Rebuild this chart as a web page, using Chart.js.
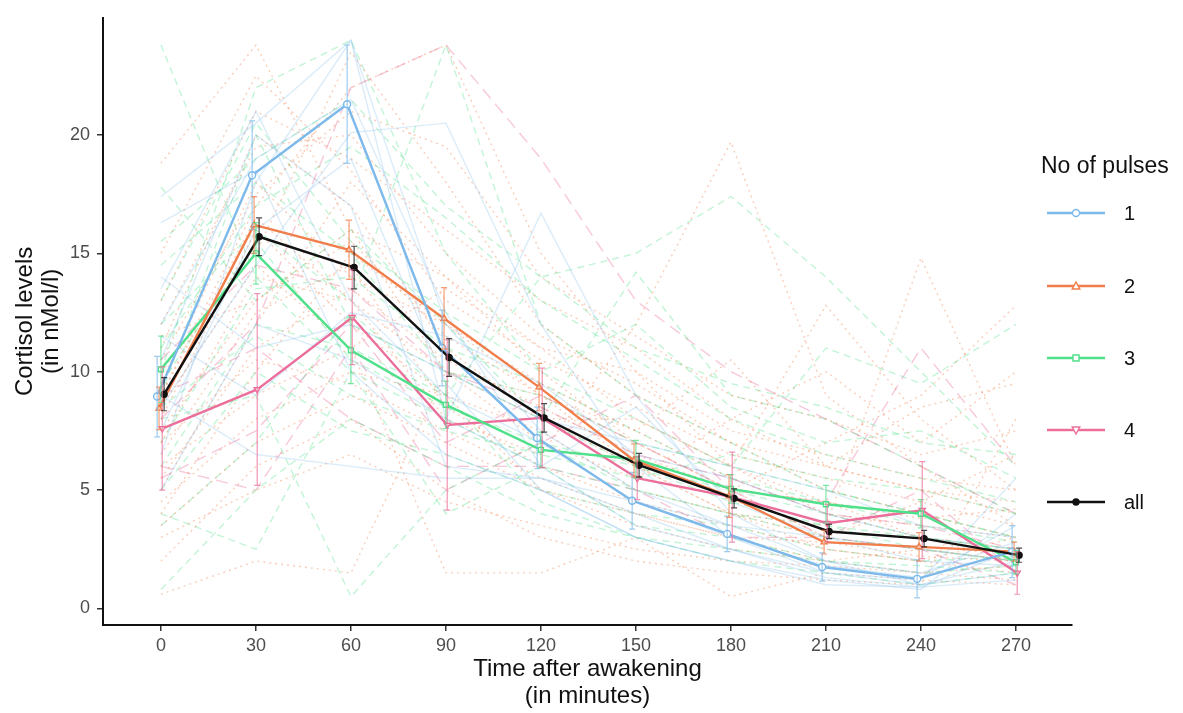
<!DOCTYPE html>
<html>
<head>
<title>Cortisol after awakening</title>
<script src="https://cdn.jsdelivr.net/npm/chart.js"></script>
<style>
  body { margin: 0; background: #fff; }
  #wrap { position: relative; width: 1183px; height: 713px; }
</style>
</head>
<body>
<div id="wrap"><canvas id="cortisolChart"></canvas></div>
<script>
    // sampling times (minutes after awakening) and axis ticks
    const times = [0, 30, 60, 90, 120, 150, 180, 210, 240, 270];
    const xTicks = [0, 30, 60, 90, 120, 150, 180, 210, 240, 270];
    const yTicks = [0, 5, 10, 15, 20];

    // group means and error bar half-widths
    const mean1 = [8.95, 18.3, 21.3, 11.0, 7.2, 4.55, 3.15, 1.75, 1.25, 2.4];
    const err1 = [1.7, 2.3, 2.5, 1.6, 1.3, 1.2, 0.75, 0.6, 0.8, 1.1];
    const mean2 = [8.45, 16.2, 15.15, 12.25, 9.35, 6.25, 4.75, 2.8, 2.6, 2.4];
    const err2 = [0.9, 1.2, 1.25, 1.3, 1.0, 0.7, 0.9, 0.5, 0.6, 0.4];
    const mean3 = [10.1, 15.0, 10.9, 8.6, 6.7, 6.3, 5.05, 4.4, 4.0, 1.95];
    const err3 = [1.4, 1.3, 1.4, 1.0, 0.75, 0.8, 0.6, 0.8, 0.6, 0.5];
    const mean4 = [7.6, 9.25, 12.3, 7.75, 8.05, 5.5, 4.7, 3.6, 4.15, 1.5];
    const err4 = [2.6, 4.05, 2.0, 3.6, 2.1, 0.9, 1.9, 0.8, 2.05, 0.9];
    const meanAll = [9.05, 15.7, 14.4, 10.6, 8.05, 6.05, 4.65, 3.25, 2.95, 2.25];
    const errAll = [0.7, 0.8, 0.9, 0.8, 0.6, 0.5, 0.4, 0.3, 0.35, 0.3];

    // individual profiles, one row per subject
    const subjects1 = [
        [17.4, 20.5, 24.0, 12.0, 7.5, 5.0, 3.5, 2.0, 1.5, 2.8],
        [13.5, 21.0, 13.0, 9.0, 7.0, 4.5, 3.0, 1.5, 1.0, 2.0],
        [8.5, 14.5, 20.1, 20.5, 12.0, 6.0, 3.0, 1.8, 1.3, 3.5],
        [6.5, 18.0, 24.0, 8.0, 16.7, 9.0, 4.0, 2.0, 1.0, 1.5],
        [12.0, 19.0, 21.5, 12.5, 6.0, 3.5, 2.5, 1.3, 0.9, 2.5],
        [9.0, 6.5, 6.0, 5.5, 5.5, 4.5, 3.5, 3.0, 2.5, 2.0],
        [16.3, 18.5, 10.0, 6.5, 5.0, 3.0, 2.0, 1.2, 0.8, 4.0],
        [5.0, 12.0, 10.5, 8.0, 6.0, 8.5, 4.5, 3.0, 2.0, 1.8],
        [14.0, 11.0, 12.0, 10.0, 8.0, 7.0, 6.0, 5.0, 3.5, 3.0],
        [7.5, 16.0, 19.0, 9.5, 5.0, 3.0, 2.0, 1.0, 0.9, 1.2],
        [10.5, 20.0, 17.0, 6.0, 5.5, 4.0, 2.5, 1.5, 1.2, 5.5],
        [11.5, 9.0, 12.5, 11.5, 9.5, 6.5, 5.5, 4.0, 3.0, 2.5]
    ];
    const subjects2 = [
        [18.8, 23.8, 16.0, 14.0, 10.0, 7.0, 5.0, 3.0, 2.5, 2.0],
        [0.6, 2.0, 1.5, 10.0, 9.0, 6.0, 4.0, 2.5, 2.0, 1.5],
        [9.0, 17.0, 22.0, 23.8, 15.0, 10.0, 6.0, 4.0, 3.0, 2.0],
        [7.0, 14.0, 13.0, 8.0, 6.5, 12.0, 19.7, 9.0, 6.0, 3.5],
        [5.0, 12.0, 18.0, 14.0, 11.0, 8.0, 6.0, 12.8, 8.0, 5.0],
        [11.0, 20.0, 17.0, 11.0, 8.0, 6.0, 4.0, 3.5, 14.8, 6.0],
        [4.0, 10.0, 15.0, 12.0, 9.0, 7.0, 5.0, 7.0, 9.0, 12.8],
        [8.0, 16.0, 12.0, 9.0, 5.0, 4.0, 3.0, 2.0, 2.5, 2.0],
        [6.0, 9.0, 11.0, 1.5, 1.5, 3.0, 0.5, 1.5, 1.2, 1.0],
        [13.0, 21.0, 19.0, 16.0, 13.0, 11.0, 8.0, 6.0, 5.0, 4.0],
        [3.5, 7.0, 9.0, 7.0, 5.0, 3.5, 2.5, 2.0, 1.5, 1.8],
        [10.0, 15.0, 23.5, 18.0, 12.0, 9.0, 7.0, 5.0, 4.0, 3.0],
        [2.0, 6.0, 8.0, 5.0, 3.0, 2.0, 1.5, 1.2, 1.0, 8.0],
        [7.5, 13.0, 16.0, 10.0, 7.0, 5.5, 8.0, 10.0, 7.0, 10.0],
        [9.5, 18.0, 14.0, 12.0, 9.5, 7.5, 5.5, 4.0, 3.5, 3.0],
        [5.5, 11.0, 13.5, 10.5, 8.5, 6.5, 5.0, 4.5, 3.0, 2.5],
        [12.0, 19.5, 20.0, 15.0, 11.5, 9.5, 7.0, 6.0, 5.0, 4.5],
        [4.5, 8.0, 10.0, 9.0, 7.5, 5.0, 4.0, 3.0, 4.5, 6.5],
        [15.0, 22.5, 18.5, 13.0, 10.5, 8.5, 6.5, 5.5, 4.5, 3.5],
        [8.5, 14.5, 11.0, 13.5, 11.0, 10.0, 7.5, 6.5, 5.5, 5.0],
        [6.5, 12.5, 14.5, 8.5, 6.0, 4.5, 3.5, 2.5, 2.0, 3.0],
        [10.5, 17.5, 21.0, 19.5, 14.0, 11.5, 9.0, 8.0, 6.5, 7.5],
        [3.0, 5.0, 6.5, 4.5, 3.5, 2.5, 2.0, 1.8, 1.5, 1.2],
        [11.5, 13.0, 15.5, 11.5, 9.0, 7.5, 10.5, 6.0, 8.5, 9.5],
        [7.0, 10.5, 9.5, 7.5, 5.5, 4.0, 3.0, 2.8, 2.2, 2.0],
        [9.0, 16.5, 13.0, 10.0, 8.0, 8.0, 6.0, 4.5, 3.8, 4.2]
    ];
    const subjects3 = [
        [23.8, 14.0, 10.0, 8.0, 6.0, 5.0, 4.0, 3.5, 3.0, 2.5],
        [0.8, 5.0, 8.0, 6.0, 4.0, 3.0, 2.0, 1.5, 1.0, 1.5],
        [10.0, 22.0, 24.0, 15.0, 10.0, 8.0, 6.0, 5.0, 4.0, 3.0],
        [8.0, 9.0, 0.5, 5.0, 7.0, 5.0, 4.0, 3.0, 2.5, 2.0],
        [12.0, 16.0, 13.0, 23.8, 12.0, 9.0, 7.0, 5.0, 4.0, 3.0],
        [6.0, 12.0, 11.0, 9.0, 14.0, 15.0, 17.4, 14.0, 10.0, 6.0],
        [14.5, 18.0, 15.0, 10.0, 8.0, 14.2, 9.0, 8.0, 6.0, 4.0],
        [4.0, 2.5, 10.0, 4.0, 6.0, 3.5, 3.0, 2.0, 1.5, 1.8],
        [9.0, 20.0, 12.0, 10.0, 9.0, 7.0, 6.0, 11.0, 9.5, 12.0],
        [17.8, 13.0, 16.0, 12.0, 8.0, 6.0, 4.5, 3.5, 2.5, 2.0],
        [7.0, 13.5, 14.0, 11.0, 9.5, 7.5, 5.5, 4.5, 3.5, 2.8],
        [11.0, 17.0, 19.5, 16.5, 13.0, 10.5, 8.0, 6.5, 5.5, 4.5],
        [5.0, 10.0, 7.5, 6.5, 5.0, 4.0, 3.5, 2.5, 2.0, 2.2],
        [13.0, 20.5, 15.5, 12.5, 10.0, 12.0, 8.5, 7.0, 7.5, 5.5],
        [9.5, 15.5, 10.5, 8.5, 7.0, 6.0, 5.0, 4.0, 3.0, 2.5],
        [3.5, 7.0, 12.5, 9.0, 4.5, 3.0, 2.5, 2.0, 1.8, 1.5],
        [15.5, 19.0, 21.5, 17.0, 14.0, 11.0, 9.5, 8.5, 7.0, 6.5],
        [8.5, 11.5, 9.0, 7.5, 6.5, 5.5, 6.5, 5.5, 5.0, 4.0]
    ];
    const subjects4 = [
        [8.0, 12.0, 22.0, 23.8, 19.0, 13.0, 10.0, 8.0, 6.0, 4.0],
        [6.0, 5.0, 11.0, 5.0, 7.0, 9.0, 5.0, 4.5, 11.0, 6.0],
        [9.0, 11.0, 8.0, 6.0, 6.0, 5.0, 3.0, 3.0, 2.5, 1.0],
        [10.5, 14.5, 13.5, 10.0, 8.5, 6.5, 5.5, 4.0, 3.5, 2.5],
        [5.5, 7.5, 12.0, 7.0, 9.0, 7.0, 5.0, 3.0, 5.0, 1.5]
    ];

    const groups = [
        { label: '1', mean: mean1, err: err1, color: '#7db9ea', shape: 'circle', rot: 0, dx: -1.2, fill: '#fff' },
        { label: '2', mean: mean2, err: err2, color: '#f07d4a', shape: 'triangle', rot: 0, dx: -0.6, fill: '#fff' },
        { label: '3', mean: mean3, err: err3, color: '#4fe08a', shape: 'rect', rot: 0, dx: 0, fill: '#fff' },
        { label: '4', mean: mean4, err: err4, color: '#eb6f9a', shape: 'triangle', rot: 180, dx: 0.4, fill: '#fff' },
        { label: 'all', mean: meanAll, err: errAll, color: '#111111', shape: 'circle', rot: 0, dx: 1.0, fill: '#111111' }
    ];

    const datasets = [];

    function addSubjects(rows, color, dash) {
        rows.forEach(vals => {
            datasets.push({
                data: vals.map((v, i) => ({ x: times[i], y: v })),
                borderColor: color,
                borderWidth: 1.4,
                borderDash: dash,
                pointRadius: 0,
                fill: false,
                order: 5
            });
        });
    }
    addSubjects(subjects1, 'rgba(125,185,234,0.28)', []);
    addSubjects(subjects2, 'rgba(240,125,74,0.38)', [2, 4]);
    addSubjects(subjects3, 'rgba(79,224,138,0.35)', [7, 5]);
    addSubjects(subjects4, 'rgba(235,111,154,0.38)', [12, 7]);

    groups.forEach((g, k) => {
        datasets.push({
            label: g.label,
            data: g.mean.map((v, i) => ({ x: times[i] + g.dx, y: v })),
            errs: g.err,
            borderColor: g.color,
            backgroundColor: g.fill,
            borderWidth: 2.4,
            pointStyle: g.shape,
            pointRotation: g.rot,
            pointRadius: g.label === 'all' ? 3 : 3.5,
            pointBorderWidth: 1.4,
            pointBackgroundColor: g.fill,
            fill: false,
            order: k === 4 ? 0 : 1
        });
    });

    // vertical error bars with small caps, placed with the chart scales
    const errorBars = {
        id: 'errorBars',
        afterDatasetsDraw(chart) {
            const ctx = chart.ctx;
            const xs = chart.scales.x, ys = chart.scales.y;
            chart.data.datasets.forEach(ds => {
                if (!ds.errs) return;
                ctx.save();
                ctx.strokeStyle = ds.borderColor;
                ctx.globalAlpha = 0.75;
                ctx.lineWidth = 1.2;
                ds.data.forEach((p, i) => {
                    const px = xs.getPixelForValue(p.x);
                    const top = ys.getPixelForValue(p.y + ds.errs[i]);
                    const bot = ys.getPixelForValue(p.y - ds.errs[i]);
                    ctx.beginPath();
                    ctx.moveTo(px, top); ctx.lineTo(px, bot);
                    ctx.moveTo(px - 3, top); ctx.lineTo(px + 3, top);
                    ctx.moveTo(px - 3, bot); ctx.lineTo(px + 3, bot);
                    ctx.stroke();
                });
                ctx.restore();
            });
        }
    };

    function drawMarker(ctx, g, x, y) {
        ctx.save();
        ctx.fillStyle = g.fill;
        ctx.strokeStyle = g.color;
        ctx.lineWidth = 1.4;
        ctx.beginPath();
        if (g.shape === 'circle') {
            ctx.arc(x, y, g.label === 'all' ? 3 : 3.5, 0, Math.PI * 2);
        } else if (g.shape === 'rect') {
            ctx.rect(x - 3, y - 3, 6, 6);
        } else {
            const s = g.rot ? -1 : 1;
            ctx.moveTo(x, y - 4 * s);
            ctx.lineTo(x + 3.8, y + 3 * s);
            ctx.lineTo(x - 3.8, y + 3 * s);
            ctx.closePath();
        }
        ctx.fill();
        ctx.stroke();
        ctx.restore();
    }

    // legend on the right, like the ggplot guide
    const sideLegend = {
        id: 'sideLegend',
        afterDraw(chart) {
            const ctx = chart.ctx;
            ctx.save();
            ctx.fillStyle = '#111';
            ctx.font = '23px "Liberation Sans", Arial, sans-serif';
            ctx.textBaseline = 'middle';
            ctx.fillText('No of pulses', 1041, 167);
            const rowY = [213, 286, 358, 430, 502];
            ctx.font = '20px "Liberation Sans", Arial, sans-serif';
            groups.forEach((g, i) => {
                const y = rowY[i];
                ctx.strokeStyle = g.color;
                ctx.lineWidth = 2.4;
                ctx.beginPath();
                ctx.moveTo(1047, y);
                ctx.lineTo(1105, y);
                ctx.stroke();
                drawMarker(ctx, g, 1076, y);
                ctx.fillStyle = '#111';
                ctx.fillText(g.label, 1124, y + 1);
            });
            ctx.restore();
        }
    };

    const ctx = document.getElementById('cortisolChart').getContext('2d');
    const cortisolChart = new Chart(ctx, {
        type: 'line',
        data: { datasets: datasets },
        options: {
            responsive: true,
            maintainAspectRatio: false,
            animation: false,
            devicePixelRatio: 1,
            layout: { padding: { top: 12, right: 111, left: 0, bottom: 0 } },
            plugins: {
                legend: { display: false },
                tooltip: { enabled: false }
            },
            elements: { line: { tension: 0 } },
            scales: {
                x: {
                    type: 'linear',
                    min: -18.3,
                    max: 287.7,
                    afterBuildTicks: s => { s.ticks = xTicks.map(v => ({ value: v })); },
                    afterFit: s => { s.height = 88; },
                    grid: { drawOnChartArea: false, drawTicks: true, tickLength: 6, color: '#333', lineWidth: 1.5 },
                    border: { display: true, color: '#111', width: 2 },
                    ticks: {
                        padding: 4,
                        color: '#4d4d4d',
                        font: { family: '"Liberation Sans", Arial, sans-serif', size: 18 }
                    },
                    title: {
                        display: true,
                        text: ['Time after awakening', '(in minutes)'],
                        color: '#111',
                        padding: { top: 0, bottom: 3 },
                        font: { family: '"Liberation Sans", Arial, sans-serif', size: 24, lineHeight: 1.12 }
                    }
                },
                y: {
                    type: 'linear',
                    min: -0.7,
                    max: 24.95,
                    afterBuildTicks: s => { s.ticks = yTicks.map(v => ({ value: v })); },
                    afterFit: s => { s.width = 103; },
                    grid: { drawOnChartArea: false, drawTicks: true, tickLength: 6, color: '#333', lineWidth: 1.5 },
                    border: { display: true, color: '#111', width: 2 },
                    ticks: {
                        padding: 7,
                        color: '#4d4d4d',
                        font: { family: '"Liberation Sans", Arial, sans-serif', size: 18 }
                    },
                    title: {
                        display: true,
                        text: ['Cortisol levels', '(in nMol/l)'],
                        color: '#111',
                        padding: { top: 12, bottom: 0 },
                        font: { family: '"Liberation Sans", Arial, sans-serif', size: 24, lineHeight: 1.1 }
                    }
                }
            }
        },
        plugins: [errorBars, sideLegend]
    });
</script>
</body>
</html>
